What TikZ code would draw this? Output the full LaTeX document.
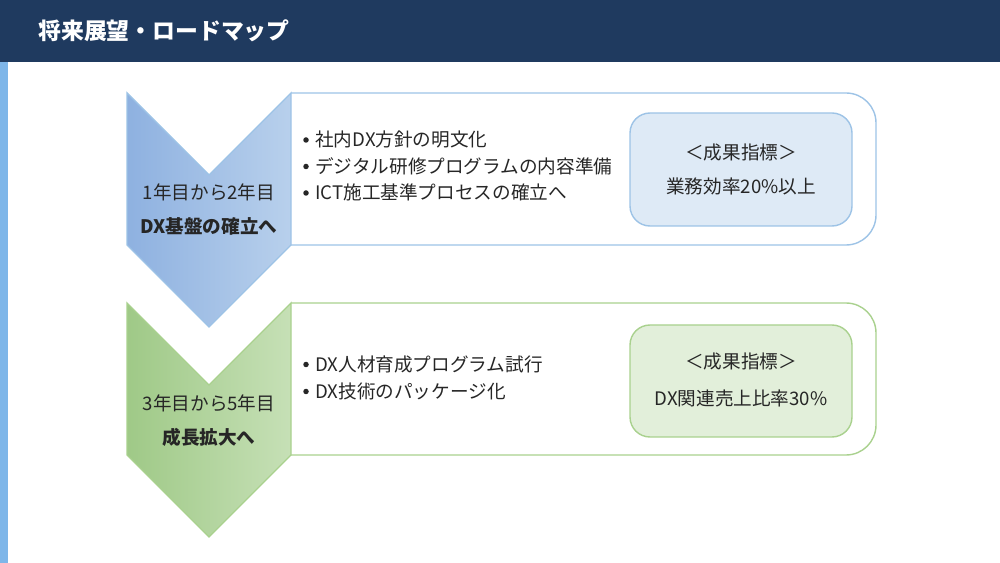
\documentclass[tikz,border=0pt]{standalone}
\usepackage{fontspec}
\setmainfont{Noto Sans CJK JP}
\usepackage{tikz}

\definecolor{navy}{HTML}{1F3A5F}
\definecolor{strip}{HTML}{7EB6E9}
\definecolor{ink}{HTML}{262626}
\definecolor{blueL}{HTML}{8EB1E0}
\definecolor{blueR}{HTML}{B8D0EC}
\definecolor{blueline}{HTML}{9DC3E6}
\definecolor{bluefill}{HTML}{DEEAF6}
\definecolor{greenL}{HTML}{9FC987}
\definecolor{greenR}{HTML}{C6E0B6}
\definecolor{greenline}{HTML}{A9D18E}
\definecolor{greenfill}{HTML}{E2EFDA}

\begin{document}
\begin{tikzpicture}[x=0.02cm, y=-0.02cm, font=\fontsize{10.6}{13}\selectfont, text=ink]
\tikzstyle{every node}=[inner sep=0pt]
\tikzstyle{item}=[anchor=west]
\tikzstyle{dot}=[shape=circle, fill=ink, minimum size=0.11cm]
\tikzstyle{goal}=[rounded corners=0.4cm, line width=0.8pt]
\useasboundingbox (0,0) rectangle (1000,563);
% header and side strip
\fill[navy] (0,0) rectangle (1000,62);
\fill[strip] (0,62) rectangle (8,563);
\node at (38,31) [anchor=west, text=white, font=\fontsize{13}{15}\selectfont\bfseries] (title) {将来展望・ロードマップ};

% step 1
\draw[blueline, line width=0.8pt, rounded corners=0.6cm] (291,93) -- (876,93) -- (876,245) -- (291,245);
\shade[left color=blueL, right color=blueR, draw=blueline, line width=0.8pt]
(127,93) -- (209,175) -- (291,93) -- (291,245) -- (209,327) -- (127,245) -- cycle;
\node at (209,192) (y1) {1年目から2年目};
\node at (209,226) [font=\fontsize{10.6}{13}\selectfont\bfseries] (s1) {DX基盤の確立へ};
\foreach \t [count=\i] in {社内DX方針の明文化, デジタル研修プログラムの内容準備, ICT施工基準プロセスの確立へ} {
\node at (306,113.5+26.5*\i) [dot] (b1\i) {};
\node at (315,113+26.5*\i) [item] (t1\i) {\t};
}
\draw[goal, draw=blueline, fill=bluefill] (630,113) rectangle (852,226);
\node at (741,152) (k1) {＜成果指標＞};
\node at (741,186) (v1) {業務効率20\%以上};

% step 2
\draw[greenline, line width=0.8pt, rounded corners=0.6cm] (291,303) -- (876,303) -- (876,455) -- (291,455);
\shade[left color=greenL, right color=greenR, draw=greenline, line width=0.8pt]
(127,303) -- (209,385) -- (291,303) -- (291,455) -- (209,537) -- (127,455) -- cycle;
\node at (209,403) (y2) {3年目から5年目};
\node at (209,437) [font=\fontsize{10.6}{13}\selectfont\bfseries] (s2) {成長拡大へ};
\foreach \t [count=\i] in {DX人材育成プログラム試行, DX技術のパッケージ化} {
\node at (306,337.5+27*\i) [dot] (b2\i) {};
\node at (315,337+27*\i) [item] (t2\i) {\t};
}
\draw[goal, draw=greenline, fill=greenfill] (630,325) rectangle (852,437);
\node at (741,361) (k2) {＜成果指標＞};
\node at (741,398) (v2) {DX関連売上比率30\%};
\end{tikzpicture}
\end{document}
